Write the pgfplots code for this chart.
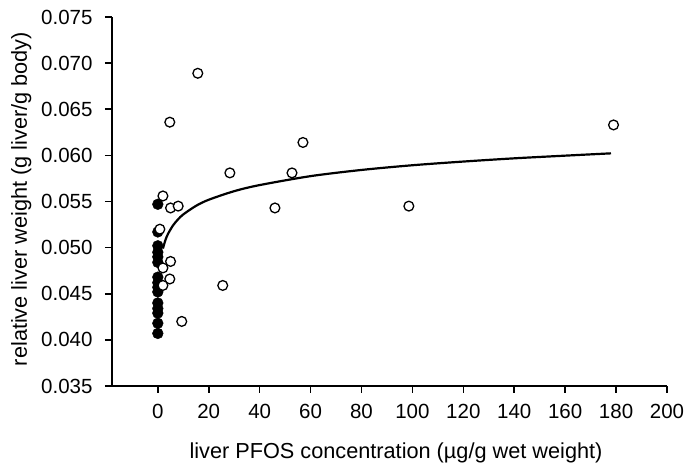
\documentclass[border=0pt]{standalone}
\usepackage{fontspec}
\setmainfont{Liberation Sans}
\usepackage{pgfplots}
\pgfplotsset{compat=1.18}
\begin{document}
\begin{tikzpicture}
\begin{axis}[
  scale only axis, width=555pt, height=369pt,
  xmin=-18, xmax=200, ymin=0.035, ymax=0.075,
  axis x line*=bottom, axis y line*=left,
  axis line style={line width=1.8pt},
  xtick={0,20,40,60,80,100,120,140,160,180,200},
  ytick={0.035,0.040,0.045,0.050,0.055,0.060,0.065,0.070,0.075},
  tick style={line width=1.6pt, black}, major tick length=7pt,
  tick align=outside,
  scaled y ticks=false,
  yticklabel style={xshift=-9pt, /pgf/number format/fixed, /pgf/number format/fixed zerofill, /pgf/number format/precision=3},
  xticklabel style={yshift=-8pt},
  /pgf/number format/assume math mode=true,
  tick label style={font=\fontsize{20.5}{24}\selectfont},
  label style={font=\fontsize{21.7}{26}\selectfont, inner sep=0pt},
  xlabel={liver PFOS concentration (µg/g wet weight)},
  ylabel={relative liver weight (g liver/g body)},
  xlabel style={at={(axis description cs:0.5,0)}, anchor=base, yshift=-72pt, xshift=6.5pt},
  ylabel style={at={(axis description cs:0,0.5)}, anchor=base, yshift=85pt, xshift=2.5pt},
  clip=false,
]
% fitted curve
\addplot[black, line width=2.2pt, smooth] coordinates {
 (2,0.0499) (3,0.05083) (4,0.05149) (6,0.05242) (8,0.05308) (10,0.05360)
 (15,0.05453) (20,0.05519) (30,0.05612) (40,0.05678) (60,0.05775)
 (80,0.05842) (100,0.05893) (120,0.05933) (140,0.05968) (160,0.05997) (178,0.06022)
};
% control (filled)
\addplot[only marks, mark=*, mark size=5.4pt, black] coordinates {
 (0,0.0547) (0,0.0517) (0,0.0502) (0,0.0495) (0,0.0490) (0,0.0484)
 (0,0.0468) (0,0.0462) (0,0.0457) (0,0.0452) (0,0.0440) (0,0.0434)
 (0,0.0429) (0,0.0418) (0,0.0407)
};
% exposed (open)
\addplot[only marks, mark=*, mark size=4.9pt, draw=black, fill=white, line width=1.3pt] coordinates {
 (15.7,0.0689) (4.7,0.0636) (57,0.0614) (179,0.0633) (28.3,0.0581)
 (52.7,0.0581) (46,0.0543) (98.6,0.0545) (25.5,0.0459) (9.4,0.0420)
 (2,0.0556) (5,0.0543) (8,0.0545) (0.8,0.0520) (5,0.0485) (2,0.0478)
 (4.7,0.0466) (2,0.0459)
};
\end{axis}
\useasboundingbox (-112pt,-79pt) rectangle (578pt,386pt);
\end{tikzpicture}
\end{document}
